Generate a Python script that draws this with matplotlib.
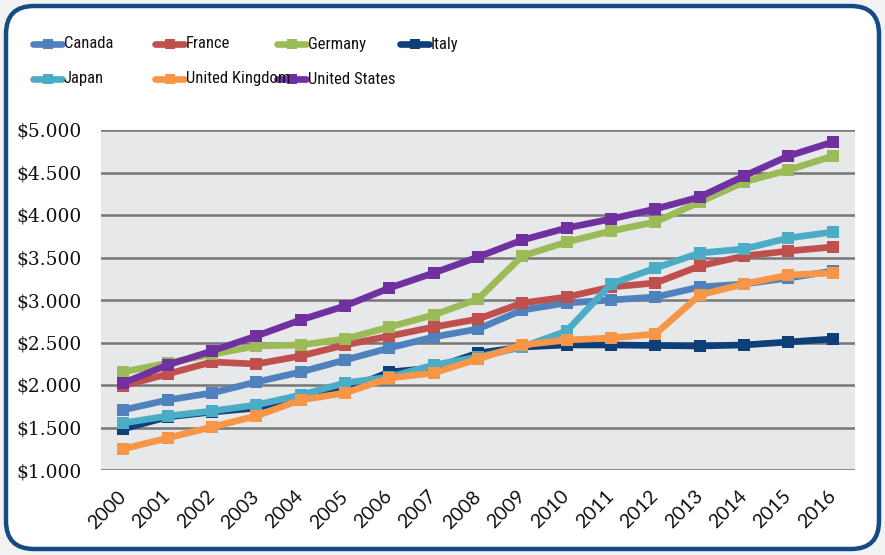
import matplotlib
matplotlib.use("Agg")
import matplotlib.pyplot as plt
from matplotlib.patches import FancyBboxPatch
from matplotlib.lines import Line2D

years = list(range(2000, 2017))
canada = [1706, 1824, 1906, 2035, 2153, 2294, 2435, 2565, 2659, 2882, 2965, 3000, 3035, 3153, 3188, 3259, 3341]
france = [1990, 2129, 2271, 2247, 2341, 2471, 2576, 2682, 2776, 2965, 3035, 3153, 3200, 3400, 3518, 3576, 3624]
germany = [2153, 2259, 2360, 2459, 2471, 2541, 2682, 2824, 3012, 3518, 3682, 3812, 3918, 4153, 4388, 4529, 4694]
italy = [1482, 1624, 1682, 1729, 1870, 1941, 2153, 2200, 2376, 2447, 2471, 2471, 2465, 2459, 2471, 2506, 2541]
japan = [1553, 1635, 1694, 1765, 1882, 2024, 2094, 2235, 2330, 2447, 2635, 3188, 3376, 3553, 3600, 3729, 3800]
uk = [1247, 1376, 1506, 1635, 1824, 1906, 2082, 2141, 2306, 2471, 2529, 2553, 2600, 3059, 3188, 3294, 3318]
us = [2024, 2235, 2400, 2576, 2765, 2930, 3141, 3318, 3506, 3706, 3847, 3953, 4071, 4212, 4459, 4694, 4859]

series_names = ["Canada", "France", "Germany", "Italy", "Japan", "United Kingdom", "United States"]
series_values = [canada, france, germany, italy, japan, uk, us]
colors = ["#4F81BD", "#C0504D", "#9BBB59", "#0E3F78", "#4BACC6", "#F79646", "#7030A0"]

y_ticks = [1000, 1500, 2000, 2500, 3000, 3500, 4000, 4500, 5000]
y_tick_labels = ["$1.000", "$1.500", "$2.000", "$2.500", "$3.000", "$3.500", "$4.000", "$4.500", "$5.000"]

W, H = 885, 555
fig = plt.figure(figsize=(W / 100, H / 100), dpi=100)
fig.patch.set_facecolor("#F2F2F2")

# background axes holding the rounded frame and legend
bg = fig.add_axes([0, 0, 1, 1], zorder=-10)
bg.set_xlim(0, W)
bg.set_ylim(H, 0)
bg.axis("off")
frame = FancyBboxPatch((6, 6), W - 12, H - 12,
                       boxstyle="round,pad=0,rounding_size=28",
                       facecolor="white", edgecolor="#154A82", linewidth=3.2)
bg.add_patch(frame)

left, right, top, bottom = 101, 855, 130, 470
ax = fig.add_axes([left / W, 1 - bottom / H, (right - left) / W, (bottom - top) / H])
ax.set_facecolor("#E7E8EA")

for name, vals, c in zip(series_names, series_values, colors):
    ax.plot(years, vals, color=c, lw=4.8, marker="s", markersize=8.5,
            markeredgewidth=0, label=name, solid_joinstyle="round",
            solid_capstyle="round")

ax.set_xlim(years[0] - 0.5, years[-1] + 0.5)
ax.set_ylim(1000, 5000)
ax.set_yticks(y_ticks)
ax.set_yticklabels(y_tick_labels, fontfamily="DejaVu Serif", fontsize=13.4,
                   color="#111111")
ax.set_xticks(years)
ax.set_xticklabels([str(y) for y in years], rotation=45, ha="right", va="center",
                   rotation_mode="anchor", fontfamily="Lato", fontsize=14,
                   color="#111111")
ax.tick_params(axis="both", length=0)
ax.tick_params(axis="y", pad=14)
ax.tick_params(axis="x", pad=17)
ax.grid(axis="y", color="#767676", lw=1.8)
ax.set_axisbelow(True)
for s in ax.spines.values():
    s.set_visible(False)
ax.axhline(1000, color="#D0D0D0", lw=1.5, zorder=0.5)

handles, labels = ax.get_legend_handles_labels()
col_x = [33, 155, 277, 400]
row_y = [44, 79]
for i, (h, lab) in enumerate(zip(handles, labels)):
    r, cidx = divmod(i, 4)
    x0 = col_x[cidx]
    y0 = row_y[r]
    bg.add_line(Line2D([x0, x0 + 29], [y0, y0], color=h.get_color(),
                       lw=4.8, solid_capstyle="round"))
    bg.add_line(Line2D([x0 + 14.5], [y0], color=h.get_color(), marker="s",
                       markersize=7.2, markeredgewidth=0))
    bg.text(x0 + 31, y0, lab,
            fontfamily=["Liberation Sans Narrow", "Roboto Condensed", "Liberation Serif"],
            fontsize=12, va="center", ha="left", color="#111111")

fig.savefig("out.png", dpi=100, facecolor=fig.get_facecolor())
